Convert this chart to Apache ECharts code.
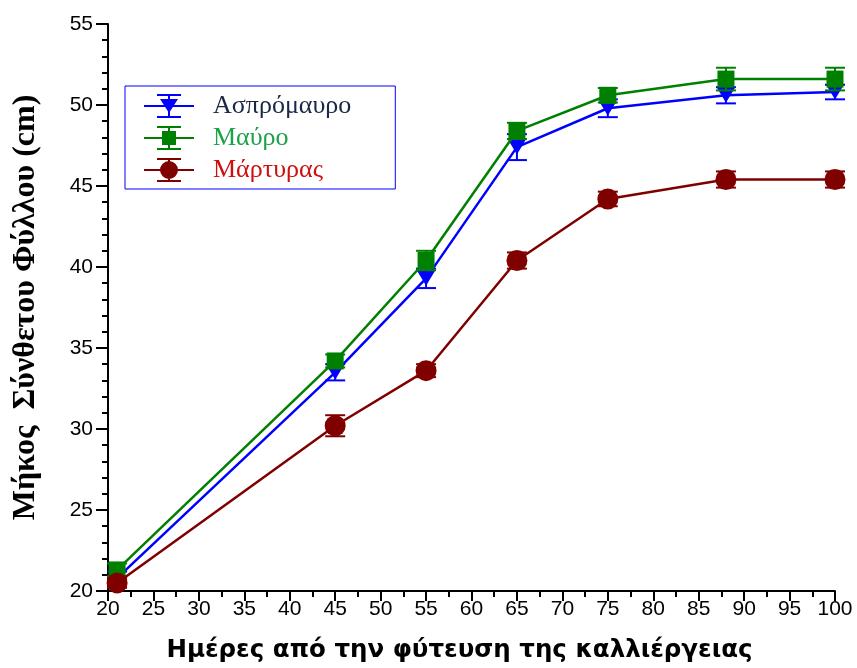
<!DOCTYPE html>
<html><head><meta charset="utf-8">
<script src="https://cdn.jsdelivr.net/npm/echarts@6/dist/echarts.min.js"></script>
<style>html,body{margin:0;padding:0;background:#fff}#c{width:857px;height:668px}</style>
</head><body><div id="c"></div>
<script>
const days = [21, 45, 55, 65, 75, 88, 100];
const seriesNames = ['Ασπρόμαυρο', 'Μαύρο', 'Μάρτυρας'];
const aspromavro = [20.8, 33.5, 39.3, 47.4, 49.8, 50.6, 50.8];
const aspromavroErr = [0.4, 0.5, 0.6, 0.8, 0.55, 0.5, 0.45];
const mavro = [21.3, 34.2, 40.4, 48.4, 50.6, 51.6, 51.6];
const mavroErr = [0.4, 0.4, 0.6, 0.5, 0.45, 0.7, 0.7];
const martyras = [20.5, 30.2, 33.6, 40.4, 44.2, 45.4, 45.4];
const martyrasErr = [0.3, 0.65, 0.4, 0.5, 0.45, 0.5, 0.5];
const xTitle = 'Ημέρες από την φύτευση της καλλιέργειας';
const yTitle = 'Μήκος  Σύνθετου Φύλλου (cm)';

const colors = ['#0000ff', '#008000', '#800000'];
const textColors = ['#1c2747', '#1fa14a', '#cc1010'];
const allVals = [aspromavro, mavro, martyras];
const allErr = [aspromavroErr, mavroErr, martyrasErr];

const base = 'M0 11 L50 11 L50 13 L0 13 Z M24 1 L26 1 L26 23 L24 23 Z M13 0 L37 0 L37 2 L13 2 Z M13 22 L37 22 L37 24 L13 24 Z ';
const icons = [
  'path://' + base + 'M16 5 L34 5 L25 19 Z',
  'path://' + base + 'M18 5 L32 5 L32 19 L18 19 Z',
  'path://' + base + 'M16 12 A9 9 0 1 1 34 12 A9 9 0 1 1 16 12 Z'
];
const symbols = ['triangle', 'rect', 'circle'];
const symbolSizes = [[18, 15], 17, 21];
const rotates = [180, 0, 0];

const series = [];
seriesNames.forEach((name, i) => {
  series.push({
    type: 'custom', name: name + ' err', z: 2 + i * 2,
    data: days.map((d, k) => [d, allVals[i][k] - allErr[i][k], allVals[i][k] + allErr[i][k]]),
    renderItem: (params, api) => {
      const lo = api.coord([api.value(0), api.value(1)]);
      const hi = api.coord([api.value(0), api.value(2)]);
      const hw = 10;
      const st = { stroke: colors[i], lineWidth: 2 };
      return { type: 'group', children: [
        { type: 'line', shape: { x1: lo[0], y1: lo[1], x2: hi[0], y2: hi[1] }, style: st },
        { type: 'line', shape: { x1: lo[0] - hw, y1: lo[1], x2: lo[0] + hw, y2: lo[1] }, style: st },
        { type: 'line', shape: { x1: hi[0] - hw, y1: hi[1], x2: hi[0] + hw, y2: hi[1] }, style: st }
      ]};
    },
    silent: true, tooltip: { show: false }
  });
  series.push({
    type: 'line', name: name, z: 3 + i * 2,
    data: days.map((d, k) => [d, allVals[i][k]]),
    symbol: symbols[i], symbolSize: symbolSizes[i], symbolRotate: rotates[i],
    showAllSymbol: true,
    lineStyle: { color: colors[i], width: 2.5 },
    itemStyle: { color: colors[i], opacity: 1 },
    emphasis: { disabled: true },
    animation: false
  });
});

const chart = echarts.init(document.getElementById('c'), null, { renderer: 'canvas' });
chart.setOption({
  animation: false,
  grid: { left: 108, right: 22, top: 24, bottom: 76, containLabel: false },
  legend: {
    orient: 'vertical', left: 125, top: 86,
    data: seriesNames.map((n, i) => ({ name: n, icon: icons[i], textStyle: { color: textColors[i] } })),
    itemWidth: 50, itemHeight: 24, itemGap: 6,
    padding: [7, 44, 6, 19],
    borderColor: '#0000ff', borderWidth: 1,
    textStyle: { fontFamily: 'Liberation Serif', fontSize: 26, padding: [0, 0, 0, 14] },
    selectedMode: false
  },
  xAxis: {
    type: 'value', min: 20, max: 100, interval: 5,
    name: xTitle, nameLocation: 'middle', nameGap: 47,
    nameTextStyle: { fontFamily: 'DejaVu Sans', fontWeight: 'bold', fontSize: 24.5, color: '#000', padding: [0, 24, 0, 0] },
    axisLine: { onZero: false, lineStyle: { color: '#000', width: 2 } },
    axisTick: { length: 10, lineStyle: { color: '#000', width: 2 } },
    minorTick: { show: true, splitNumber: 2, length: 6, lineStyle: { color: '#000', width: 2 } },
    axisLabel: { fontFamily: 'Liberation Sans', fontSize: 21, color: '#000', margin: 8 },
    splitLine: { show: false }
  },
  yAxis: {
    type: 'value', min: 20, max: 55, interval: 5,
    name: yTitle, nameLocation: 'middle', nameGap: 66,
    nameTextStyle: { fontFamily: 'Liberation Serif', fontWeight: 'bold', fontSize: 32, color: '#000' },
    axisLine: { onZero: false, lineStyle: { color: '#000', width: 2 } },
    axisTick: { length: 12, lineStyle: { color: '#000', width: 2 } },
    minorTick: { show: true, splitNumber: 5, length: 6, lineStyle: { color: '#000', width: 2 } },
    axisLabel: { fontFamily: 'Liberation Sans', fontSize: 21, color: '#000', margin: 15 },
    splitLine: { show: false }
  },
  series: series
});
</script></body></html>
